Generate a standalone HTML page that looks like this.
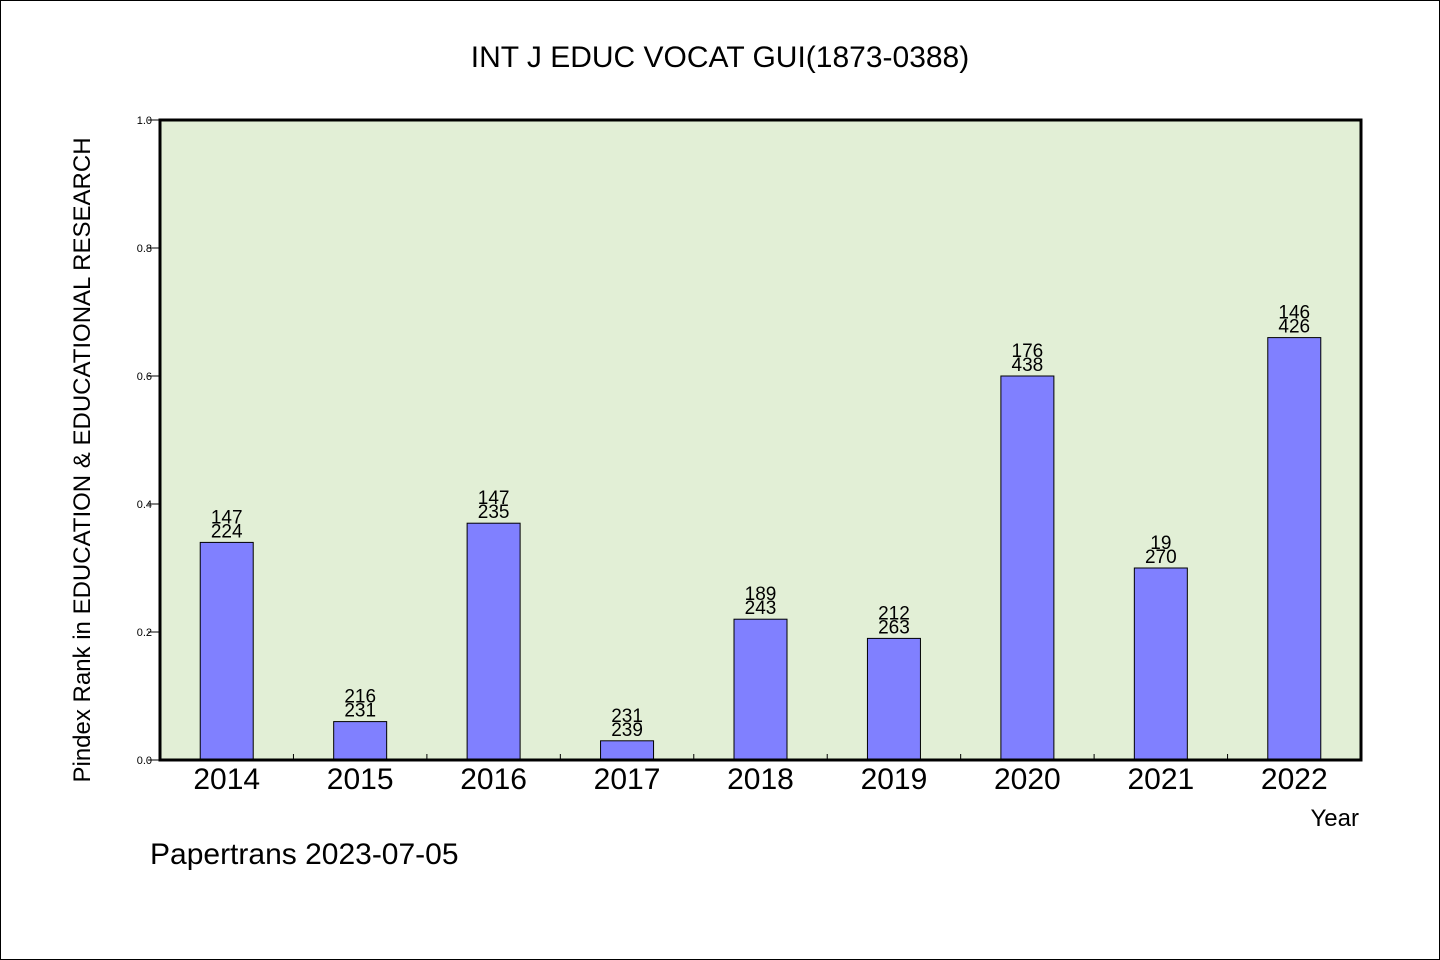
<!DOCTYPE html>
<html><head><meta charset="utf-8"><style>
html,body{margin:0;padding:0;background:#fff;}
svg{display:block;font-family:"WenQuanYi Zen Hei","Liberation Sans",sans-serif;}
</style></head><body>
<svg id="chart" width="1440" height="960" viewBox="0 0 1440 960" xmlns="http://www.w3.org/2000/svg">
<rect x="0.5" y="0.5" width="1439" height="959" fill="#fff" stroke="#000" stroke-width="1"/>
<text x="720" y="67" font-size="30" text-anchor="middle">INT J EDUC VOCAT GUI(1873-0388)</text>
<rect x="160" y="120" width="1201" height="640" fill="#e2efd6"/>
<g id="yticks"></g>
<g id="bars"></g>
<g id="xlabels"></g>
<rect x="160" y="120" width="1201" height="640" fill="none" stroke="#000" stroke-width="3"/>
<text transform="translate(90,460) rotate(-90)" font-size="24" text-anchor="middle">Pindex Rank in EDUCATION &amp; EDUCATIONAL RESEARCH</text>
<text x="1359" y="826" font-size="24" text-anchor="end">Year</text>
<text x="150" y="864" font-size="30">Papertrans 2023-07-05</text>
</svg>
<script>
const years = ["2014","2015","2016","2017","2018","2019","2020","2021","2022"];
const values = [0.34,0.06,0.37,0.03,0.22,0.19,0.60,0.30,0.66];
const labelTop = ["147","216","147","231","189","212","176","19","146"];
const labelBottom = ["224","231","235","239","243","263","438","270","426"];
const yTicks = [0,0.2,0.4,0.6,0.8,1.0];
const NS="http://www.w3.org/2000/svg";
const X0=160,W=1201,Y0=760,H=640;
const band=W/years.length;
const y=v=>Y0-v*H;
const xc=i=>X0+(i+0.5)*band;
function mk(t,a,p){const e=document.createElementNS(NS,t);for(const k in a)e.setAttribute(k,a[k]);p.appendChild(e);return e;}
const yt=document.getElementById('yticks');
yTicks.forEach(v=>{
  const l=mk('line',{x1:148,x2:160,y1:y(v),y2:y(v),stroke:'#000','stroke-width':1},yt);
  
  
  const t=mk('text',{x:152,y:y(v)+4,'font-size':11,'text-anchor':'end'},yt);
  t.textContent=v.toFixed(1);
  
  
});
const bg=document.getElementById('bars');
const xl=document.getElementById('xlabels');
years.forEach((yr,i)=>{
  if(i>0){
    const tk=mk('line',{x1:X0+i*band,x2:X0+i*band,y1:Y0,y2:Y0-6,stroke:'#000','stroke-width':1},bg);
    
    
  }
  const bw=53;
  const r=mk('rect',{x:xc(i)-bw/2,y:y(values[i]),width:bw,height:Y0-y(values[i]),fill:'#8080ff',stroke:'#000','stroke-width':1},bg);
  
  
  const t1=mk('text',{x:xc(i),y:y(values[i])-19,'font-size':19,'text-anchor':'middle'},bg);
  t1.textContent=labelTop[i];
  
  
  const t2=mk('text',{x:xc(i),y:y(values[i])-5,'font-size':19,'text-anchor':'middle'},bg);
  t2.textContent=labelBottom[i];
  
  
  const xt=mk('text',{x:xc(i),y:789,'font-size':30,'text-anchor':'middle'},xl);
  xt.textContent=yr;
  
  
});
</script>
</body></html>
